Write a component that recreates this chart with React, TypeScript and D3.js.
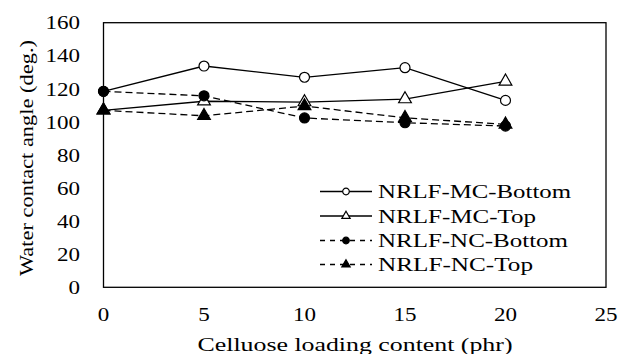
import { useEffect, useRef } from "react";
import * as d3 from "d3";

const loading = [0, 5, 10, 15, 20];
const mcBottom = [118.5, 133.8, 127, 132.8, 113];
const mcTop = [107, 112.5, 112, 113.8, 124.5];
const ncBottom = [118.5, 115.8, 102.4, 99.5, 97.5];
const ncTop = [107, 103.7, 109.6, 102.5, 98.5];
const xTicks = [0, 5, 10, 15, 20, 25];
const yTicks = [0, 20, 40, 60, 80, 100, 120, 140, 160];

const series = [
  { name: "NRLF-MC-Bottom", values: mcBottom, shape: "circle", filled: false, dashed: false },
  { name: "NRLF-MC-Top", values: mcTop, shape: "triangle", filled: false, dashed: false },
  { name: "NRLF-NC-Bottom", values: ncBottom, shape: "circle", filled: true, dashed: true },
  { name: "NRLF-NC-Top", values: ncTop, shape: "triangle", filled: true, dashed: true },
];
const legendWidths = [193, 158, 190, 155];

export default function App() {
  const svgRef = useRef<SVGSVGElement | null>(null);

  useEffect(() => {
    const width = 619;
    const height = 354;
    const font = "'Liberation Serif', serif";
    const m = { left: 103.5, right: 606, top: 22.7, bottom: 287.3 };

    const svg = d3.select(svgRef.current);
    svg.selectAll("*").remove();
    svg.attr("width", width).attr("height", height).style("display", "block");

    const x = d3.scaleLinear().domain([0, 25]).range([m.left, m.right]);
    const y = d3.scaleLinear().domain([0, 160]).range([m.bottom, m.top]);

    svg
      .append("rect")
      .attr("x", m.left)
      .attr("y", m.top)
      .attr("width", m.right - m.left)
      .attr("height", m.bottom - m.top)
      .attr("fill", "none")
      .attr("stroke", "#000")
      .attr("stroke-width", 1.3);

    svg
      .selectAll("text.yt")
      .data(yTicks)
      .join("text")
      .attr("class", "yt")
      .attr("x", 80)
      .attr("y", (d) => y(d))
      .attr("dy", "0.35em")
      .attr("text-anchor", "end")
      .attr("textLength", (d) => String(d).length * 11.5)
      .attr("lengthAdjust", "spacingAndGlyphs")
      .style("font-family", font)
      .style("font-size", "19px")
      .text((d) => d);

    svg
      .selectAll("text.xt")
      .data(xTicks)
      .join("text")
      .attr("class", "xt")
      .attr("x", (d) => x(d))
      .attr("y", 321)
      .attr("text-anchor", "middle")
      .attr("textLength", (d) => String(d).length * 11.5)
      .attr("lengthAdjust", "spacingAndGlyphs")
      .style("font-family", font)
      .style("font-size", "19px")
      .text((d) => d);

    svg
      .append("text")
      .attr("transform", `translate(33,${158}) rotate(-90)`)
      .attr("text-anchor", "middle")
      .attr("textLength", 236)
      .attr("lengthAdjust", "spacingAndGlyphs")
      .style("font-family", font)
      .style("font-size", "19px")
      .text("Water contact angle (deg.)");

    svg
      .append("text")
      .attr("x", 355)
      .attr("y", 351)
      .attr("text-anchor", "middle")
      .attr("textLength", 315)
      .attr("lengthAdjust", "spacingAndGlyphs")
      .style("font-family", font)
      .style("font-size", "19px")
      .text("Celluose loading content (phr)");

    const line = d3
      .line<number>()
      .x((_, i) => x(loading[i]))
      .y((d) => y(d));

    const marker = (g: any, shape: string, filled: boolean, size: number) => {
      const sym = d3.symbol().type(shape === "circle" ? d3.symbolCircle : d3.symbolTriangle).size(size);
      g.append("path")
        .attr("d", sym())
        .attr("fill", filled ? "#000" : "#fff")
        .attr("stroke", "#000")
        .attr("stroke-width", 1.2);
    };

    series.forEach((s) => {
      svg
        .append("path")
        .attr("d", line(s.values))
        .attr("fill", "none")
        .attr("stroke", "#000")
        .attr("stroke-width", 1.3)
        .attr("stroke-dasharray", s.dashed ? "7,4" : null);
    });

    series.forEach((s) => {
      s.values.forEach((v, i) => {
        const g = svg.append("g").attr("transform", `translate(${x(loading[i])},${y(v)})`);
        marker(g, s.shape, s.filled, s.shape === "circle" ? 78 : 70);
      });
    });

    const legY = [191.5, 216, 240.5, 264.5];
    series.forEach((s, i) => {
      const g = svg.append("g").attr("transform", `translate(0,${legY[i]})`);
      g.append("line")
        .attr("x1", 320)
        .attr("x2", 372)
        .attr("stroke", "#000")
        .attr("stroke-width", 1.3)
        .attr("stroke-dasharray", s.dashed ? "5,5" : null);
      const mg = g.append("g").attr("transform", "translate(346,0)");
      marker(mg, s.shape, s.filled, s.shape === "circle" ? 34 : 30);
      g.append("text")
        .attr("x", 378)
        .attr("dy", "0.35em")
        .attr("textLength", legendWidths[i])
        .attr("lengthAdjust", "spacingAndGlyphs")
        .style("font-family", font)
        .style("font-size", "19px")
        .text(s.name);
    });
  }, []);

  return (
    <div style={{ position: "absolute", left: 0, top: 0 }}>
      <svg ref={svgRef}></svg>
    </div>
  );
}
